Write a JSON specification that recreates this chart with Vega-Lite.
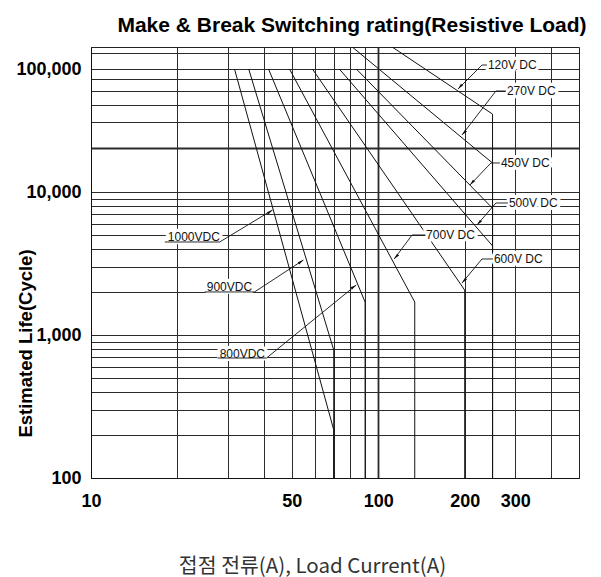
{
  "$schema": "https://vega.github.io/schema/vega-lite/v6.json",
  "width": 488,
  "height": 431,
  "autosize": {"type": "none"},
  "padding": {"left": 91, "top": 47, "right": 22, "bottom": 99},
  "background": "white",
  "title": {
    "text": "Make & Break Switching rating(Resistive Load)",
    "anchor": "middle",
    "frame": "group",
    "dx": 17,
    "dy": 26,
    "offset": 17,
    "baseline": "alphabetic",
    "font": "Liberation Sans",
    "fontSize": 21,
    "fontWeight": "bold",
    "color": "#000"
  },
  "config": {"view": {"stroke": "#222", "strokeWidth": 1}},
  "datasets": {
    "curves": [
      {"series": "1000VDC", "i": 0, "current": 31.6, "life": 100000},
      {"series": "1000VDC", "i": 1, "current": 70, "life": 217},
      {"series": "1000VDC", "i": 2, "current": 70, "life": 100},
      {"series": "900VDC", "i": 0, "current": 35.4, "life": 100000},
      {"series": "900VDC", "i": 1, "current": 70, "life": 785},
      {"series": "900VDC", "i": 2, "current": 70, "life": 100},
      {"series": "800VDC", "i": 0, "current": 41.5, "life": 100000},
      {"series": "800VDC", "i": 1, "current": 90, "life": 1700},
      {"series": "800VDC", "i": 2, "current": 90, "life": 100},
      {"series": "700V DC", "i": 0, "current": 49.1, "life": 100000},
      {"series": "700V DC", "i": 1, "current": 134, "life": 1700},
      {"series": "700V DC", "i": 2, "current": 134, "life": 100},
      {"series": "600V DC", "i": 0, "current": 59, "life": 100000},
      {"series": "600V DC", "i": 1, "current": 200, "life": 2060},
      {"series": "600V DC", "i": 2, "current": 200, "life": 100},
      {"series": "500V DC", "i": 0, "current": 73.2, "life": 100000},
      {"series": "500V DC", "i": 1, "current": 250, "life": 4200},
      {"series": "500V DC", "i": 2, "current": 250, "life": 100},
      {"series": "450V DC", "i": 0, "current": 83.9, "life": 100000},
      {"series": "450V DC", "i": 1, "current": 250, "life": 7700},
      {"series": "450V DC", "i": 2, "current": 250, "life": 100},
      {"series": "270V DC", "i": 0, "current": 81.2, "life": 150000},
      {"series": "270V DC", "i": 1, "current": 250, "life": 17200},
      {"series": "270V DC", "i": 2, "current": 250, "life": 100},
      {"series": "120V DC", "i": 0, "current": 111.8, "life": 150000},
      {"series": "120V DC", "i": 1, "current": 250, "life": 43000},
      {"series": "120V DC", "i": 2, "current": 250, "life": 100}
    ],
    "leaders": [
      {"label": "120V DC", "tipx": 189.6, "tipy": 68770, "elbx": 229.7, "elby": 107650, "endx": 239.0, "endy": 107650, "tx": 240.9, "ty": 107650},
      {"label": "270V DC", "tipx": 195.7, "tipy": 29070, "elbx": 256.9, "elby": 66240, "endx": 278.3, "endy": 66240, "tx": 280.5, "ty": 66240},
      {"label": "450V DC", "tipx": 208.6, "tipy": 11400, "elbx": 246.8, "elby": 17210, "endx": 265.2, "endy": 17210, "tx": 267.3, "ty": 17210},
      {"label": "500V DC", "tipx": 220.7, "tipy": 5878, "elbx": 256.9, "elby": 8377, "endx": 282.7, "endy": 8377, "tx": 285.0, "ty": 8377},
      {"label": "600V DC", "tipx": 195.7, "tipy": 2310, "elbx": 229.7, "elby": 3400, "endx": 250.8, "endy": 3400, "tx": 252.8, "ty": 3400},
      {"label": "700V DC", "tipx": 113.6, "tipy": 3400, "elbx": 131.2, "elby": 5004, "endx": 145.6, "endy": 5004, "tx": 146.8, "ty": 5004},
      {"label": "1000VDC", "tipx": 42.85, "tipy": 7483, "elbx": 28.05, "elby": 4471, "endx": 18.07, "endy": 4471, "tx": 18.51, "ty": 4845},
      {"label": "900VDC", "tipx": 54.9, "tipy": 3346, "elbx": 37.1, "elby": 2000, "endx": 24.89, "endy": 2000, "tx": 25.29, "ty": 2166},
      {"label": "800VDC", "tipx": 83.86, "tipy": 2237, "elbx": 40.84, "elby": 690.4, "endx": 27.61, "endy": 690.4, "tx": 28.05, "ty": 736.7}
    ]
  },
  "layer": [
    {
      "data": {"name": "curves"},
      "mark": {"type": "line", "color": "#111", "strokeWidth": 1, "clip": true},
      "encoding": {
        "x": {
          "field": "current",
          "type": "quantitative",
          "scale": {"type": "log", "domain": [10, 500], "nice": false},
          "axis": {
            "values": [10, 20, 30, 40, 50, 60, 70, 80, 90, 100, 200, 300, 400],
            "labelExpr": "indexof([10,50,100,200,300], datum.value) >= 0 ? datum.value : ''",
            "grid": true,
            "gridColor": "#2b2b2b",
            "gridOpacity": 1,
            "gridWidth": {"condition": {"test": "datum.value === 100", "value": 1.8}, "value": 1},
            "ticks": false,
            "tickSize": 0,
            "domain": true,
            "domainColor": "#111",
            "labelFont": "Liberation Sans",
            "labelFontSize": 18,
            "labelFontWeight": "bold",
            "labelColor": "#000",
            "labelPadding": 14,
            "labelFlush": false,
            "labelOverlap": false,
            "labelBound": false,
            "title": "접점 전류(A), Load Current(A)",
            "titleFont": "Noto Sans CJK KR",
            "titleFontSize": 20.5,
            "titleFontWeight": "normal",
            "titleColor": "#333",
            "titleX": 221,
            "titleY": 88,
            "titleAlign": "center",
            "titleAnchor": null,
            "titleBaseline": "middle"
          }
        },
        "y": {
          "field": "life",
          "type": "quantitative",
          "scale": {"type": "log", "domain": [100, 10000, 100000, 150000], "range": [431, 145, 22, 0], "nice": false},
          "axis": {
            "values": [100, 200, 300, 400, 500, 600, 700, 800, 900, 1000, 2000, 3000, 4000, 5000, 6000, 7000, 8000, 9000, 10000, 22920, 36870, 50960, 66600, 82400, 100000, 133600],
            "labelExpr": "indexof([100,1000,10000,100000], datum.value) >= 0 ? format(datum.value, ',') : ''",
            "grid": true,
            "gridColor": "#2b2b2b",
            "gridOpacity": 1,
            "gridWidth": {"condition": {"test": "datum.value === 22920", "value": 1.8}, "value": 1},
            "ticks": false,
            "tickSize": 0,
            "domain": true,
            "domainColor": "#111",
            "labelFont": "Liberation Sans",
            "labelFontSize": 18,
            "labelFontWeight": "bold",
            "labelColor": "#000",
            "labelPadding": 10,
            "labelFlush": false,
            "labelOverlap": false,
            "labelBound": false,
            "title": "Estimated Life(Cycle)",
            "titleFont": "Liberation Sans",
            "titleFontSize": 18.5,
            "titleFontWeight": "bold",
            "titleColor": "#000",
            "titleX": -66,
            "titleY": 296,
            "titleAlign": "center",
            "titleAnchor": null,
            "titleBaseline": "middle"
          }
        },
        "detail": {"field": "series"},
        "order": {"field": "i", "type": "quantitative"}
      }
    },
    {
      "data": {"name": "leaders"},
      "mark": {"type": "text", "align": "left", "baseline": "middle", "font": "Liberation Sans", "fontSize": 12, "fill": "white", "stroke": "white", "strokeWidth": 6.5, "strokeJoin": "round"},
      "encoding": {
        "x": {"field": "tx", "type": "quantitative"},
        "y": {"field": "ty", "type": "quantitative"},
        "text": {"field": "label"}
      }
    },
    {
      "data": {"name": "leaders"},
      "mark": {"type": "rule", "color": "#111", "strokeWidth": 0.9},
      "encoding": {
        "x": {"field": "tipx", "type": "quantitative"},
        "y": {"field": "tipy", "type": "quantitative"},
        "x2": {"field": "elbx"},
        "y2": {"field": "elby"}
      }
    },
    {
      "data": {"name": "leaders"},
      "mark": {"type": "rule", "color": "#111", "strokeWidth": 0.9},
      "encoding": {
        "x": {"field": "elbx", "type": "quantitative"},
        "y": {"field": "elby", "type": "quantitative"},
        "x2": {"field": "endx"},
        "y2": {"field": "endy"}
      }
    },
    {
      "data": {"name": "leaders"},
      "transform": [{"filter": "datum.tipx < datum.elbx"}],
      "mark": {"type": "point", "shape": "M0,0L0.4,1.7L-0.4,1.7Z", "filled": true, "size": 49, "angle": 222, "color": "#111", "opacity": 1},
      "encoding": {
        "x": {"field": "tipx", "type": "quantitative"},
        "y": {"field": "tipy", "type": "quantitative"}
      }
    },
    {
      "data": {"name": "leaders"},
      "transform": [{"filter": "datum.tipx > datum.elbx"}],
      "mark": {"type": "point", "shape": "M0,0L0.4,1.7L-0.4,1.7Z", "filled": true, "size": 49, "angle": 56, "color": "#111", "opacity": 1},
      "encoding": {
        "x": {"field": "tipx", "type": "quantitative"},
        "y": {"field": "tipy", "type": "quantitative"}
      }
    },
    {
      "data": {"name": "leaders"},
      "mark": {"type": "text", "align": "left", "baseline": "middle", "font": "Liberation Sans", "fontSize": 12, "color": "#111"},
      "encoding": {
        "x": {"field": "tx", "type": "quantitative"},
        "y": {"field": "ty", "type": "quantitative"},
        "text": {"field": "label"}
      }
    }
  ]
}
